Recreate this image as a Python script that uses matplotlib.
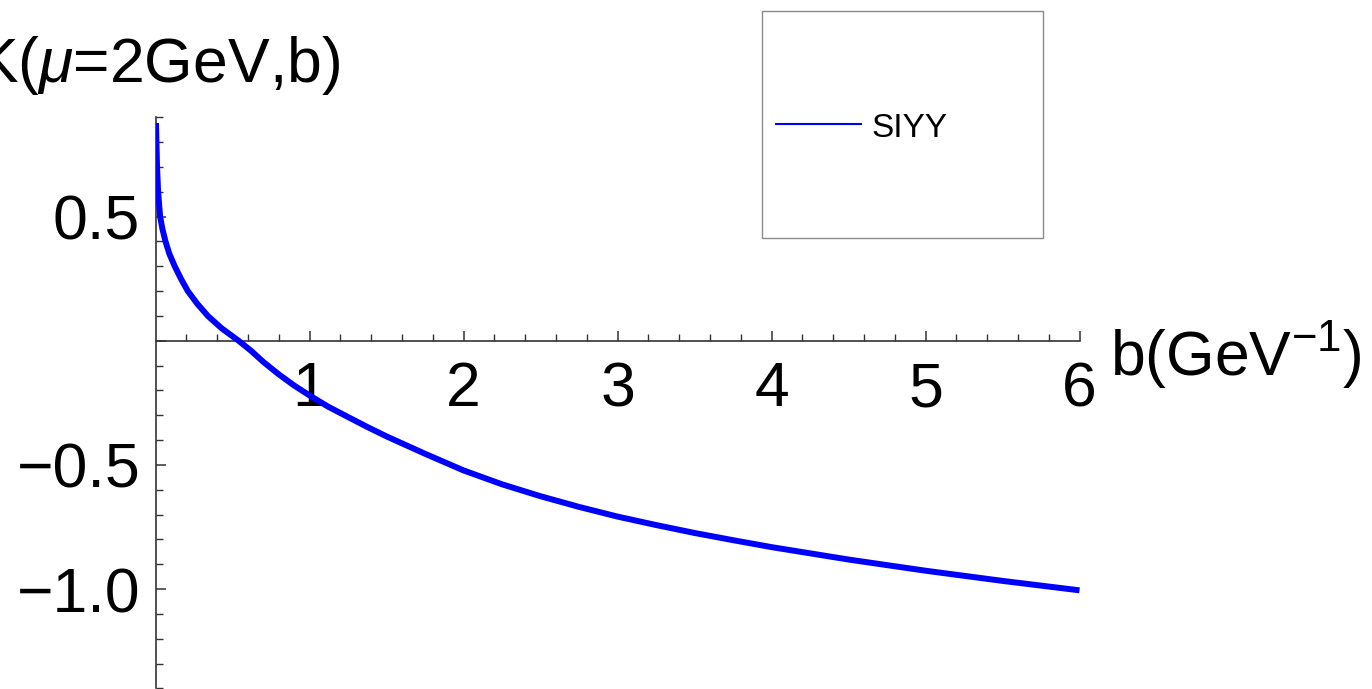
import matplotlib
matplotlib.use("Agg")
import matplotlib.pyplot as plt
from matplotlib.patches import Rectangle
from matplotlib.lines import Line2D
from matplotlib.ticker import FixedLocator, FixedFormatter

# Collins-Soper kernel K(mu=2 GeV, b) versus b
b_vals = [0.003, 0.01, 0.017, 0.03, 0.045, 0.065, 0.09, 0.125, 0.165, 0.21,
          0.27, 0.34, 0.43, 0.54, 0.62, 0.7, 0.8, 0.9, 1.0, 1.12, 1.25, 1.375,
          1.5, 1.75, 2.0, 2.25, 2.5, 2.75, 3.0, 3.25, 3.5, 3.75, 4.0, 4.5,
          5.0, 5.5, 6.0]
k_vals = [0.877, 0.70, 0.60, 0.50, 0.45, 0.40, 0.35, 0.30, 0.25, 0.20,
          0.15, 0.10, 0.05, 0.0, -0.04, -0.085, -0.135, -0.18, -0.22, -0.265,
          -0.307, -0.347, -0.385, -0.455, -0.522, -0.578, -0.626, -0.669,
          -0.708, -0.742, -0.774, -0.803, -0.831, -0.881, -0.926, -0.967,
          -1.005]
series_label = "SIYY"

x_major = [1, 2, 3, 4, 5, 6]
x_major_labels = ["1", "2", "3", "4", "5", "6"]
y_major = [-1.0, -0.5, 0.0, 0.5]
y_major_labels = ["\u22121.0", "\u22120.5", "", "0.5"]

plt.rcParams["font.family"] = ["Liberation Sans", "DejaVu Sans"]
plt.rcParams["mathtext.fontset"] = "custom"
plt.rcParams["mathtext.rm"] = "Liberation Sans"
plt.rcParams["mathtext.it"] = "Liberation Sans:italic"
plt.rcParams["mathtext.bf"] = "Liberation Sans:bold"

W, H = 1372, 689
fig = plt.figure(figsize=(W / 100, H / 100), dpi=100)

def fx(px):
    return px / W

def fy(py):
    return 1 - py / H

ax = fig.add_axes([fx(155.5), fy(688.4), fx(1079.5) - fx(155.5), fy(117.3) - fy(688.4)])
ax.set_xlim(0, 6)
ax.set_ylim(-1.4, 0.9)

line, = ax.plot(b_vals, k_vals, color="#0000ff", lw=4.3, label=series_label,
                solid_capstyle="butt", solid_joinstyle="round", zorder=3)

axis_color = "#333333"
for side in ("top", "right"):
    ax.spines[side].set_visible(False)
ax.spines["left"].set_position(("data", 0))
ax.spines["bottom"].set_position(("data", 0))
for side in ("left", "bottom"):
    ax.spines[side].set_color(axis_color)
    ax.spines[side].set_linewidth(1.2)

ax.xaxis.set_major_locator(FixedLocator(x_major))
ax.xaxis.set_major_formatter(FixedFormatter(x_major_labels))
ax.xaxis.set_minor_locator(FixedLocator([i * 0.2 for i in range(1, 30) if i % 5]))
ax.yaxis.set_major_locator(FixedLocator(y_major))
ax.yaxis.set_major_formatter(FixedFormatter(y_major_labels))
ax.yaxis.set_minor_locator(FixedLocator([round(-1.4 + i * 0.1, 2) for i in range(0, 24)
                                         if round((-1.4 + i * 0.1) * 10) % 5]))

ax.tick_params(axis="both", which="major", direction="in", length=7.5, width=1.1,
               color=axis_color, labelsize=45, labelcolor="black")
ax.tick_params(axis="both", which="minor", direction="in", length=4.8, width=1.0,
               color=axis_color)
ax.tick_params(axis="x", which="major", pad=14)
ax.tick_params(axis="y", which="major", pad=11)
ax.patch.set_visible(False)

# axis titles
fig.text(fx(340), fy(81.7), r"K($\mu$=2GeV,b)", fontsize=45, ha="right", va="baseline")
fig.text(fx(1110), fy(375), r"b(GeV$^{-1}$)", fontsize=45, ha="left", va="baseline")

# legend box
fig.patches.append(Rectangle((fx(761.7), fy(237.7)), fx(1042.7) - fx(761.7),
                             fy(11) - fy(237.7), transform=fig.transFigure,
                             fill=False, edgecolor="#8a8a8a", lw=1.0))
fig.lines.append(Line2D([fx(776), fx(861)], [fy(124.3), fy(124.3)],
                        transform=fig.transFigure, color=line.get_color(), lw=1.5))
fig.text(fx(871.7), fy(137.3), line.get_label(), fontsize=24, ha="left", va="baseline")

fig.savefig("out.png", dpi=100)
